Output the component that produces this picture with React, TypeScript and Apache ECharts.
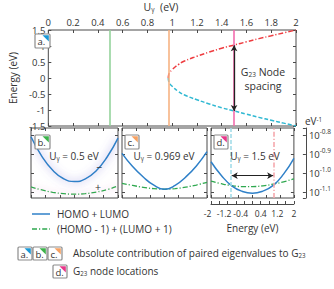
import React, { useEffect, useRef } from 'react';
import * as echarts from 'echarts';

const FONT = '"Open Sans", Lato, sans-serif';
const INK = '#333333';
const FRAME = '#4a4a4a';

// ---- Top plot: G23 node locations vs U_gamma ----
const uGamma = [0.969, 0.972, 0.98, 1.0, 1.05, 1.1, 1.2, 1.3, 1.4, 1.5, 1.6, 1.7, 1.8, 1.9, 2.0];
const upperNode = [0, 0.1, 0.17, 0.26, 0.42, 0.53, 0.68, 0.81, 0.93, 1.03, 1.13, 1.23, 1.32, 1.41, 1.5];
const lowerNode = [0, -0.1, -0.17, -0.26, -0.42, -0.53, -0.68, -0.81, -0.93, -1.03, -1.13, -1.23, -1.32, -1.41, -1.5];
const markerU = [0.5, 0.969, 1.5];
const spacingU = 1.5;
const spacingEnds = [1.02, -1.03];

// ---- Lower panels: log10 |contribution| vs energy ----
const energy = [-2, -1.5, -1, -0.5, 0, 0.5, 1, 1.5, 2];
const bHomoLumo = [-0.809, -0.912, -0.985, -1.029, -1.044, -1.03, -0.987, -0.915, -0.816];
const bNext = [-1.072, -1.088, -1.1, -1.107, -1.11, -1.107, -1.099, -1.086, -1.067];
const cHomoLumo = [-0.896, -0.965, -1.02, -1.063, -1.084, -1.064, -1.02, -0.962, -0.887];
const cNext = [-1.053, -1.064, -1.074, -1.081, -1.084, -1.081, -1.073, -1.062, -1.048];
const dHomoLumo = [-0.94, -1.012, -1.066, -1.095, -1.105, -1.094, -1.064, -1.005, -0.922];
const dNext = [-1.041, -1.055, -1.065, -1.07, -1.07, -1.066, -1.057, -1.045, -1.03];
const nodeLocations = [-1.05, 1.05];
const arrowLevel = -1.013;
const arrowEnds = [-1.0, 1.0];
const logTicks = [-0.8, -0.9, -1.0, -1.1];
const energyLabels = [-2, -1.2, -0.4, 0.4, 1.2, 2];

const LOG_MIN = -1.13;
const LOG_MAX = -0.763;

const zip = (xs: number[], ys: number[]) => xs.map((x, i) => [x, ys[i]]);

const tick = { show: true, inside: true, length: 3, lineStyle: { color: FRAME, width: 1 } };

function tickX(gridIndex: number, position: string, min: number, max: number, interval: number) {
  return {
    type: 'value', gridIndex, position, min, max, interval,
    axisLine: { show: false, onZero: false }, axisTick: tick, axisLabel: { show: false }, splitLine: { show: false },
  };
}
function tickYLog(gridIndex: number, position: string) {
  return {
    type: 'value', gridIndex, position, min: LOG_MIN, max: LOG_MAX,
    axisLine: { show: false, onZero: false },
    axisTick: { ...tick, customValues: logTicks },
    axisLabel: { show: false }, splitLine: { show: false },
  };
}

const richBase = (size: number) => ({
  m: { fontSize: size, fontFamily: FONT, fill: INK, color: INK },
  s: { fontSize: size * 0.62, fontFamily: FONT, fill: INK, color: INK, verticalAlign: 'bottom' },
  p: { fontSize: size * 0.62, fontFamily: FONT, fill: INK, color: INK, verticalAlign: 'top' },
});

function richText(x: number, y: number, text: string, size: number, align = 'left', z = 100) {
  return {
    type: 'text', x, y, z,
    style: {
      text, rich: richBase(size), fontSize: size, fontFamily: FONT, fill: INK,
      textAlign: align, align, textVerticalAlign: 'middle', verticalAlign: 'middle',
    },
  };
}

function labelBox(x: number, y: number, w: number, h: number, letter: string, color: string): any[] {
  return [
    { type: 'rect', z: 100, shape: { x, y, width: w, height: h, r: 1 }, style: { fill: '#ffffff', stroke: '#8c8c8c', lineWidth: 1.2 } },
    { type: 'polygon', z: 101, shape: { points: [[x + w - 7.5, y + 1.2], [x + w - 1.2, y + 1.2], [x + w - 1.2, y + 7.5]] }, style: { fill: color } },
    richText(x + 2.5, y + h / 2 + 0.5, `{m|${letter}}`, 9.5, 'left', 102),
  ];
}

const BLUE = '#2f80c8';
const GREEN = '#2fa84f';
const DASHDOT = [5, 2, 1.2, 2];

export default function App() {
  const ref = useRef<HTMLDivElement>(null);
  useEffect(() => {
    document.body.style.margin = '0';
    if (!ref.current) return;
    const chart = echarts.init(ref.current, undefined, { renderer: 'svg' });

    const grids = [
      { left: 31, top: 30, width: 265, height: 96 },
      { left: 31, top: 128, width: 87, height: 70 },
      { left: 122, top: 128, width: 85, height: 70 },
      { left: 211, top: 128, width: 85, height: 70 },
    ].map((g) => ({ ...g, show: true, borderColor: FRAME, borderWidth: 1, backgroundColor: 'transparent' }));

    const panelSeries = (idx: number, blue: number[], green: number[], glow: boolean) => [
      {
        type: 'line', xAxisIndex: idx, yAxisIndex: idx, data: zip(energy, green), smooth: true,
        showSymbol: false, silent: true,
        lineStyle: {
          color: GREEN, width: 1.3, type: DASHDOT,
          ...(glow ? { shadowBlur: 7, shadowColor: 'rgba(215,120,200,0.75)' } : {}),
        },
      },
      {
        type: 'line', xAxisIndex: idx, yAxisIndex: idx, data: zip(energy, blue), smooth: true,
        showSymbol: false, silent: true,
        lineStyle: {
          color: BLUE, width: 1.5,
          ...(glow ? { shadowBlur: 9, shadowColor: 'rgba(110,100,210,0.85)' } : {}),
        },
      },
    ];

    const option: any = {
      animation: false,
      textStyle: { fontFamily: FONT },
      grid: grids,
      xAxis: [
        {
          type: 'value', gridIndex: 0, position: 'top', min: 0, max: 2, interval: 0.2,
          axisLine: { show: false, onZero: false }, axisTick: tick, splitLine: { show: false },
          axisLabel: { show: true, fontSize: 9.5, color: INK, margin: 3, fontFamily: FONT },
        },
        tickX(0, 'bottom', 0, 2, 0.2),
        tickX(1, 'bottom', -2, 2, 2 / 3),
        tickX(1, 'top', -2, 2, 2 / 3),
        tickX(2, 'bottom', -2, 2, 2 / 3),
        tickX(2, 'top', -2, 2, 2 / 3),
        tickX(3, 'bottom', -2, 2, 2 / 3),
        tickX(3, 'top', -2, 2, 2 / 3),
        {
          type: 'value', gridIndex: 3, position: 'bottom', offset: 6, min: -2, max: 2, interval: 0.4,
          axisLine: { show: true, onZero: false, lineStyle: { color: FRAME, width: 1 } },
          axisTick: tick, splitLine: { show: false },
          axisLabel: {
            show: true, customValues: energyLabels, margin: 5,
            formatter: (v: number) => (v < 0 ? `{n|${v}}` : `{q|${v}}`),
            rich: {
              n: { fontSize: 8.5, color: INK, fontFamily: FONT, padding: [0, 7, 0, 0] },
              q: { fontSize: 8.5, color: INK, fontFamily: FONT },
            },
          },
          name: 'Energy (eV)', nameLocation: 'middle', nameGap: 19,
          nameTextStyle: { fontSize: 10, color: INK, fontFamily: FONT },
        },
      ],
      yAxis: [
        {
          type: 'value', gridIndex: 0, position: 'left', min: -1.5, max: 1.5, interval: 0.5,
          axisLine: { show: false, onZero: false }, axisTick: tick, splitLine: { show: false },
          axisLabel: { show: true, fontSize: 9.5, color: INK, margin: 3, fontFamily: FONT },
          name: 'Energy (eV)', nameLocation: 'middle', nameGap: 20, nameRotate: 90,
          nameTextStyle: { fontSize: 10, color: INK, fontFamily: FONT },
        },
        {
          type: 'value', gridIndex: 0, position: 'right', min: -1.5, max: 1.5, interval: 0.5,
          axisLine: { show: false, onZero: false }, axisTick: tick, axisLabel: { show: false }, splitLine: { show: false },
        },
        tickYLog(1, 'left'),
        tickYLog(1, 'right'),
        tickYLog(2, 'left'),
        tickYLog(2, 'right'),
        tickYLog(3, 'left'),
        tickYLog(3, 'right'),
        {
          type: 'value', gridIndex: 3, position: 'right', offset: 12, min: LOG_MIN, max: LOG_MAX,
          axisLine: { show: true, onZero: false, lineStyle: { color: FRAME, width: 1 } },
          axisTick: { ...tick, customValues: [LOG_MAX, ...logTicks, LOG_MIN] },
          splitLine: { show: false },
          axisLabel: {
            show: true, customValues: logTicks, margin: 3,
            formatter: (v: number) => `{b|10}{s|${v.toFixed(1)}}`,
            rich: {
              b: { fontSize: 9.5, color: INK, fontFamily: FONT, lineHeight: 14 },
              s: { fontSize: 6.5, color: INK, fontFamily: FONT, verticalAlign: 'top', lineHeight: 10 },
            },
          },
        },
      ],
      series: [
        {
          type: 'line', xAxisIndex: 0, yAxisIndex: 0, data: zip(uGamma, upperNode), smooth: true,
          showSymbol: false, silent: true,
          lineStyle: { color: '#ee3b3f', width: 1.5, type: DASHDOT },
          markLine: {
            silent: true, symbol: 'none', label: { show: false }, animation: false,
            data: markerU.map((u, i) => ({
              xAxis: u,
              lineStyle: { color: ['#95d39c', '#f7b383', '#f36cae'][i], width: 1.6, type: 'solid' },
            })),
          },
        },
        {
          type: 'line', xAxisIndex: 0, yAxisIndex: 0, data: zip(uGamma, lowerNode), smooth: true,
          showSymbol: false, silent: true,
          lineStyle: { color: '#2fb8d2', width: 1.5, type: [4, 2] },
          markLine: {
            silent: true, label: { show: false }, animation: false, symbolSize: [5, 6],
            lineStyle: { color: '#222222', width: 1.3, type: 'solid' },
            data: [[
              { coord: [spacingU, spacingEnds[0]], symbol: 'arrow' },
              { coord: [spacingU, spacingEnds[1]], symbol: 'arrow' },
            ]],
          },
        },
        ...panelSeries(2, bHomoLumo, bNext, true),
        ...panelSeries(4, cHomoLumo, cNext, false),
        {
          type: 'line', xAxisIndex: 6, yAxisIndex: 6, data: [], silent: true,
          markLine: {
            silent: true, symbol: 'none', label: { show: false }, animation: false,
            data: [
              { xAxis: nodeLocations[0], lineStyle: { color: '#a3dde9', width: 1.6, type: [4, 2] } },
              { xAxis: nodeLocations[1], lineStyle: { color: '#f5a8ad', width: 1.6, type: DASHDOT } },
            ],
          },
        },
        ...panelSeries(6, dHomoLumo, dNext, false),
        {
          type: 'line', xAxisIndex: 6, yAxisIndex: 6, data: [], silent: true,
          markLine: {
            silent: true, label: { show: false }, animation: false, symbolSize: [5, 6],
            lineStyle: { color: '#222222', width: 1.2, type: 'solid' },
            data: [[
              { coord: [arrowEnds[0], arrowLevel], symbol: 'arrow' },
              { coord: [arrowEnds[1], arrowLevel], symbol: 'arrow' },
            ]],
          },
        },
      ],
      graphic: [
        richText(161, 7, '{m|U}{s|γ}{m|  (eV)}', 10.5, 'center'),
        ...labelBox(35, 34, 15, 14, 'a.', '#1b98d5'),
        richText(263, 72, '{m|G}{s|23}{m| Node}', 10.5, 'center'),
        richText(263, 86, '{m|spacing}', 10.5, 'center'),
        richText(305, 121, '{m|eV}{p|-1}', 10, 'left'),
        ...labelBox(35, 135, 15, 14, 'b.', '#3cb24b'),
        ...labelBox(125, 135, 14, 14, 'c.', '#f7a263'),
        ...labelBox(214, 135, 14, 14, 'd.', '#e7388a'),
        richText(74, 156, '{m|U}{s|γ}{m| = 0.5 eV}', 10, 'center'),
        richText(99, 167, '{m|−}', 10.5, 'center'),
        richText(98, 187, '{m|+}', 10.5, 'center'),
        richText(164, 156, '{m|U}{s|γ}{m| = 0.969 eV}', 10, 'center'),
        richText(255, 156, '{m|U}{s|γ}{m| = 1.5 eV}', 10, 'center'),
        { type: 'line', z: 100, shape: { x1: 32, y1: 214, x2: 50, y2: 214 }, style: { stroke: BLUE, lineWidth: 1.5 } },
        richText(57, 214, '{m|HOMO + LUMO}', 10, 'left'),
        { type: 'line', z: 100, shape: { x1: 32, y1: 229, x2: 50, y2: 229 }, style: { stroke: GREEN, lineWidth: 1.3, lineDash: DASHDOT } },
        richText(57, 229, '{m|(HOMO - 1) + (LUMO + 1)}', 10, 'left'),
        ...labelBox(18, 247, 14, 13, 'a.', '#1b98d5'),
        ...labelBox(33, 247, 14, 13, 'b.', '#3cb24b'),
        ...labelBox(48, 247, 14, 13, 'c.', '#f7a263'),
        richText(73, 253, '{m|Absolute contribution of paired eigenvalues to G}{s|23}', 10, 'left'),
        ...labelBox(53, 265, 14, 13, 'd.', '#e7388a'),
        richText(73, 271, '{m|G}{s|23}{m| node locations}', 10, 'left'),
      ],
    };

    chart.setOption(option);
    return () => chart.dispose();
  }, []);

  return <div ref={ref} style={{ width: 334, height: 289 }} />;
}
